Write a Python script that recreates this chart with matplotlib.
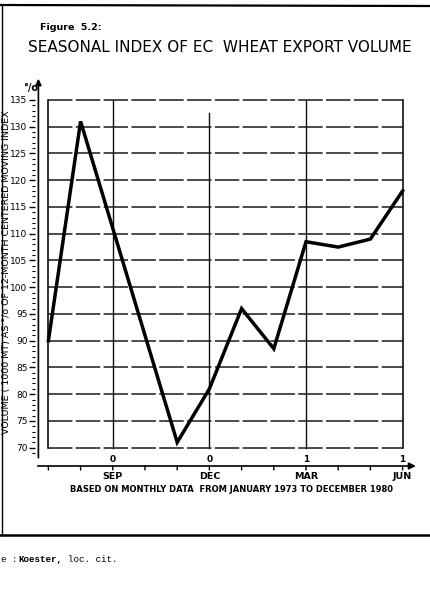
import matplotlib
matplotlib.use("Agg")
import matplotlib.pyplot as plt
import matplotlib.transforms as mtransforms
from matplotlib.lines import Line2D

# ---- data ----
months = ["JUL", "AUG", "SEP", "OCT", "NOV", "DEC", "JAN", "FEB", "MAR", "APR", "MAY", "JUN"]
index_values = [90, 131, 111, 91, 71, 81, 96, 88.5, 108.5, 107.5, 109, 118]
y_ticks = list(range(70, 136, 5))
labeled_months = ["SEP", "DEC", "MAR", "JUN"]
year_marks = ["0", "0", "1", "1"]

title = "SEASONAL INDEX OF EC  WHEAT EXPORT VOLUME"
figure_label = "Figure  5.2:"
y_label = "VOLUME ( 1000 MT) AS °/o OF 12-MONTH CENTERED MOVING INDEX"
x_note = "BASED ON MONTHLY DATA  FROM JANUARY 1973 TO DECEMBER 1980"

plt.rcParams['font.family'] = ['DejaVu Sans']

W, H = 430, 605
fig = plt.figure(figsize=(W / 100, H / 100), dpi=100)
fig.patch.set_facecolor("white")

def fx(px):
    return px / W

def fy(py):
    return 1 - py / H

ax = fig.add_axes([fx(48.4), fy(453), fx(402.6) - fx(48.4), fy(100) - fy(453)])
xs = list(range(len(months)))
ax.set_xlim(0, len(months) - 1)
ax.set_ylim(70, 135)

# horizontal dashed grid including box top / bottom
for v in y_ticks:
    ax.axhline(v, color="#1a1a1a", lw=1.1, dashes=(16, 2.2), zorder=1, clip_on=False)

# vertical lines
for m in labeled_months[:3]:
    i = months.index(m)
    top = 132.6 if m == "DEC" else 135
    ax.plot([i, i], [70, top], color="#111111", lw=1.0, zorder=1)

# box sides
ax.plot([0, 0], [70, 135], color="#111111", lw=1.2, clip_on=False, zorder=2)
ax.plot([11, 11], [70, 135], color="#111111", lw=1.2, clip_on=False, zorder=2)

# data line
ax.plot(xs, index_values, color="black", lw=2.5, solid_joinstyle="miter", zorder=3, clip_on=False)

for s in ["top", "right", "bottom", "left"]:
    ax.spines[s].set_visible(False)
ax.spines["left"].set_position(("outward", 10))

ax.set_yticks(y_ticks)
ax.set_yticklabels([str(v) for v in y_ticks], fontsize=6.5)
ax.set_yticks(range(69, 136), minor=True)
ax.tick_params(axis="y", which="major", length=4, width=1, direction="out", pad=1)
ax.tick_params(axis="y", which="minor", length=2.5, width=0.8, direction="out")

# y axis line with arrow
ytrans = mtransforms.offset_copy(ax.get_yaxis_transform(), fig=fig, x=-10, y=0, units="dots")
ax.annotate("", xy=(0, 139.5), xytext=(0, 67.6), xycoords=ytrans, textcoords=ytrans,
            arrowprops=dict(arrowstyle="-|>", color="black", lw=1.2, mutation_scale=9),
            annotation_clip=False)
fig.text(fx(31), fy(88), "°/o", fontsize=7, fontweight="bold", ha="center", va="center")

# x axis (drawn 13 px below the box)
ax.set_xticks([])
xtrans = mtransforms.offset_copy(ax.get_xaxis_transform(), fig=fig, x=0, y=-13, units="dots")
ax.annotate("", xy=(11.5, 0), xytext=(-0.42, 0), xycoords=xtrans, textcoords=xtrans,
            arrowprops=dict(arrowstyle="-|>", color="black", lw=1.2, mutation_scale=10),
            annotation_clip=False)
tick_trans_down = mtransforms.offset_copy(ax.get_xaxis_transform(), fig=fig, x=0, y=-17, units="dots")
for i in range(0, 12):
    ax.annotate("", xy=(i, 0), xycoords=tick_trans_down, xytext=(i, 0), textcoords=xtrans,
                arrowprops=dict(arrowstyle="-", color="black", lw=1.0, shrinkA=0, shrinkB=0),
                annotation_clip=False)

lab_trans_up = mtransforms.offset_copy(ax.get_xaxis_transform(), fig=fig, x=0, y=-11, units="dots")
lab_trans_down = mtransforms.offset_copy(ax.get_xaxis_transform(), fig=fig, x=0, y=-19, units="dots")
for m, yr in zip(labeled_months, year_marks):
    i = months.index(m)
    ax.text(i, 0, yr, transform=lab_trans_up, fontsize=6.5, fontweight="bold", ha="center", va="bottom")
    ax.text(i, 0, m, transform=lab_trans_down, fontsize=6.8, fontweight="bold", ha="center", va="top")

fig.text(fx(231), fy(490), x_note, fontsize=6.0, fontweight="bold", ha="center", va="center")

# y label
fig.text(fx(7), fy(272), y_label, fontsize=6.8, rotation=90, ha="center", va="center")

# titles
fig.text(fx(40), fy(27), figure_label, fontsize=6.8, fontweight="bold", ha="left", va="center")
fig.text(fx(220), fy(48), title, fontsize=11.0, ha="center", va="center")

# page borders
fig.add_artist(Line2D([0, 1], [fy(5), fy(6)], color="black", lw=1.6))
fig.add_artist(Line2D([fx(2), fx(2)], [fy(5), fy(535)], color="black", lw=1.0))
fig.add_artist(Line2D([0, 1], [fy(535), fy(535)], color="black", lw=1.8))

# source
mono = "Liberation Mono"
fig.text(fx(0), fy(560), "e", fontsize=6.6, family=mono, ha="left", va="center")
fig.text(fx(12), fy(560), ":", fontsize=6.6, family=mono, ha="left", va="center")
fig.text(fx(18), fy(560), "Koester,", fontsize=6.6, family=mono, fontweight="bold", ha="left", va="center")
fig.text(fx(68), fy(560), "loc. cit.", fontsize=6.6, family=mono, ha="left", va="center")

fig.savefig("out.png", dpi=100, facecolor="white")
